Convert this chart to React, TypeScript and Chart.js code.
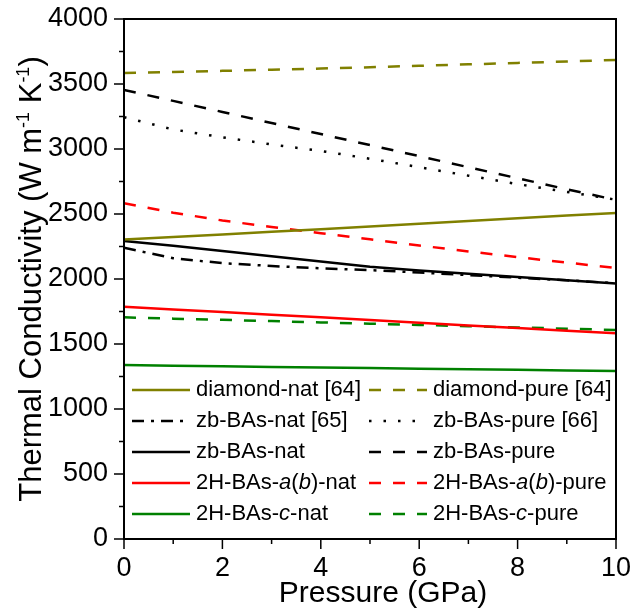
import React, { useEffect, useRef } from "react";
import { Chart, registerables } from "chart.js";
Chart.register(...registerables);

// ---- data ----
const pressure = [0, 1, 2, 3, 4, 5, 6, 7, 8, 9, 10];
const diamondNat = [2303, 2323, 2343, 2363, 2383, 2404, 2425, 2446, 2467, 2488, 2508];
const diamondPure = [3585, 3593, 3601, 3610, 3619, 3629, 3640, 3651, 3662, 3673, 3685];
const zbNat65 = [2240, 2160, 2122, 2100, 2082, 2068, 2050, 2030, 2010, 1990, 1968];
const zbPure66 = [3245, 3150, 3090, 3035, 2985, 2925, 2860, 2795, 2730, 2670, 2610];
const zbNat = [2292, 2255, 2215, 2175, 2135, 2095, 2065, 2040, 2015, 1990, 1965];
const zbPure = [3455, 3370, 3285, 3200, 3115, 3030, 2945, 2860, 2775, 2690, 2608];
const abNat = [1787, 1766, 1746, 1725, 1705, 1684, 1664, 1643, 1623, 1602, 1582];
const abPure = [2582, 2510, 2450, 2400, 2352, 2305, 2258, 2212, 2168, 2126, 2085];
const cNat = [1338, 1333, 1329, 1324, 1320, 1315, 1310, 1306, 1301, 1297, 1292];
const cPure = [1705, 1695, 1686, 1676, 1666, 1656, 1647, 1637, 1627, 1618, 1608];

// labels: text between underscores is italic
const labels = [
  "diamond-nat [64]",
  "diamond-pure [64]",
  "zb-BAs-nat [65]",
  "zb-BAs-pure [66]",
  "zb-BAs-nat",
  "zb-BAs-pure",
  "2H-BAs-_a_(_b_)-nat",
  "2H-BAs-_a_(_b_)-pure",
  "2H-BAs-_c_-nat",
  "2H-BAs-_c_-pure",
];
const xTicks = [0, 2, 4, 6, 8, 10];
const yTicks = [0, 500, 1000, 1500, 2000, 2500, 3000, 3500, 4000];
const xTitle = "Pressure (GPa)";
const yTitleParts = [
  { t: "Thermal Conductivity (W m", sup: false },
  { t: "-1", sup: true },
  { t: " K", sup: false },
  { t: "-1", sup: true },
  { t: ")", sup: false },
];

const OLIVE = "#808000";
const RED = "#ff0000";
const GREEN = "#008000";
const BLACK = "#000000";
const FONT = "'Liberation Sans', Arial, sans-serif";

const series = [diamondNat, diamondPure, zbNat65, zbPure66, zbNat, zbPure, abNat, abPure, cNat, cPure];
const colors = [OLIVE, OLIVE, BLACK, BLACK, BLACK, BLACK, RED, RED, GREEN, GREEN];
const DASH = [12, 12];
const dashes: number[][] = [[], DASH, [12, 7, 3, 7], [2.5, 12], [], DASH, [], DASH, [], DASH];

const framePlugin = {
  id: "frameAndText",
  afterDraw(chart: any) {
    const ctx = chart.ctx as CanvasRenderingContext2D;
    const { left, right, top, bottom } = chart.chartArea;
    const xs = chart.scales.x;
    const ys = chart.scales.y;
    ctx.save();
    // frame
    ctx.strokeStyle = "#000";
    ctx.lineWidth = 2;
    ctx.setLineDash([]);
    ctx.strokeRect(left, top, right - left, bottom - top);
    // ticks
    ctx.lineWidth = 1.5;
    ctx.beginPath();
    for (let v = 0; v <= 10; v += 1) {
      const px = xs.getPixelForValue(v);
      const len = v % 2 === 0 ? 10 : 5;
      ctx.moveTo(px, bottom);
      ctx.lineTo(px, bottom + len);
    }
    for (let v = 0; v <= 4000; v += 250) {
      const py = ys.getPixelForValue(v);
      const len = v % 500 === 0 ? 10 : 5;
      ctx.moveTo(left, py);
      ctx.lineTo(left - len, py);
    }
    ctx.stroke();

    // x title
    ctx.fillStyle = "#000";
    ctx.font = `30px ${FONT}`;
    ctx.textAlign = "center";
    ctx.textBaseline = "alphabetic";
    ctx.fillText(xTitle, (left + right) / 2 + 13, 602);

    // y title with superscripts
    ctx.save();
    ctx.translate(41, (top + bottom) / 2);
    ctx.rotate(-Math.PI / 2);
    ctx.textAlign = "left";
    let total = 0;
    for (const p of yTitleParts) {
      ctx.font = p.sup ? `18px ${FONT}` : `31px ${FONT}`;
      total += ctx.measureText(p.t).width;
    }
    let x = -total / 2;
    for (const p of yTitleParts) {
      ctx.font = p.sup ? `18px ${FONT}` : `31px ${FONT}`;
      ctx.fillText(p.t, x, p.sup ? -12 : 0);
      x += ctx.measureText(p.t).width;
    }
    ctx.restore();

    // legend
    const ds = chart.data.datasets;
    ctx.textAlign = "left";
    ctx.textBaseline = "middle";
    ds.forEach((d: any, i: number) => {
      const col = i % 2;
      const row = Math.floor(i / 2);
      const y = bottom - 149 + row * 31;
      const x0 = col === 0 ? left + 8 : left + 245;
      const x1 = x0 + 58;
      const tx = x1 + 6;
      ctx.strokeStyle = d.borderColor;
      ctx.lineWidth = d.borderWidth;
      ctx.setLineDash(d.borderDash || []);
      ctx.beginPath();
      ctx.moveTo(x0, y);
      ctx.lineTo(x1, y);
      ctx.stroke();
      ctx.setLineDash([]);
      let tx2 = tx;
      String(d.label)
        .split("_")
        .forEach((part: string, k: number) => {
          ctx.font = `${k % 2 ? "italic " : ""}22px ${FONT}`;
          ctx.fillStyle = "#000";
          ctx.fillText(part, tx2, y);
          tx2 += ctx.measureText(part).width;
        });
    });
    ctx.restore();
  },
};

export default function App() {
  const ref = useRef<HTMLCanvasElement | null>(null);
  useEffect(() => {
    document.body.style.margin = "0";
    const canvas = ref.current!;
    const chart = new Chart(canvas, {
      type: "line",
      data: {
        datasets: series.map((s, i) => ({
          label: labels[i],
          data: s.map((v, j) => ({ x: pressure[j], y: v })),
          borderColor: colors[i],
          backgroundColor: colors[i],
          borderWidth: 2.5,
          borderDash: dashes[i],
          pointRadius: 0,
          fill: false,
          tension: 0,
        })),
      },
      options: {
        animation: false,
        responsive: false,
        devicePixelRatio: 1,
        layout: { padding: { top: 19, right: 15, left: 0, bottom: 0 } },
        plugins: { legend: { display: false }, tooltip: { enabled: false } },
        scales: {
          x: {
            type: "linear",
            min: 0,
            max: 10,
            afterFit: (s: any) => {
              s.height = 73;
              s.paddingLeft = 0;
              s.paddingRight = 0;
            },
            afterBuildTicks: (s: any) => {
              s.ticks = xTicks.map((v) => ({ value: v }));
            },
            ticks: {
              font: { size: 27, family: FONT },
              color: "#000",
              padding: 13,
              maxRotation: 0,
              callback: (v: any) => String(v),
            },
            grid: { drawOnChartArea: false, drawTicks: false },
            border: { display: true, color: "#000", width: 2 },
          },
          y: {
            type: "linear",
            min: 0,
            max: 4000,
            afterFit: (s: any) => {
              s.width = 124;
              s.paddingTop = 0;
              s.paddingBottom = 0;
            },
            afterBuildTicks: (s: any) => {
              s.ticks = yTicks.map((v) => ({ value: v }));
            },
            ticks: {
              font: { size: 27, family: FONT },
              color: "#000",
              padding: 16,
              callback: (v: any) => String(v),
            },
            grid: { drawOnChartArea: false, drawTicks: false },
            border: { display: true, color: "#000", width: 2 },
          },
        },
      },
      plugins: [framePlugin],
    });
    return () => chart.destroy();
  }, []);
  return <canvas ref={ref} width={631} height={612} style={{ display: "block" }} />;
}
